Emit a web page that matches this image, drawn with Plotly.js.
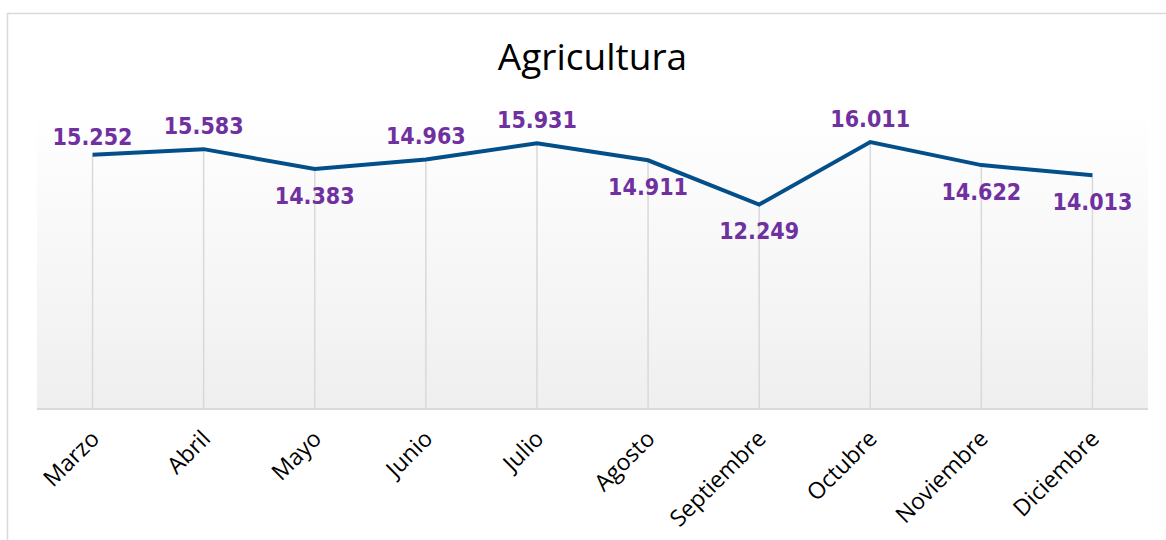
<!DOCTYPE html>
<html>
<head>
<meta charset="utf-8">
<script src="https://cdn.plot.ly/plotly-3.0.1.min.js"></script>
<style>html,body{margin:0;padding:0;background:#fff;}#chart{width:1166px;height:540px;}</style>
</head>
<body>
<div id="chart"></div>
<script>
const months = ["Marzo","Abril","Mayo","Junio","Julio","Agosto","Septiembre","Octubre","Noviembre","Diciembre"];
const values = [15252, 15583, 14383, 14963, 15931, 14911, 12249, 16011, 14622, 14013];
const labelPos = ["top center","top center","bottom center","top center","top center","bottom center","bottom center","top center","bottom center","bottom center"];
const chartTitle = "Agricultura";

// invisible marker sizes used only to space the value labels from the line
const labelGap = labelPos.map((p, i) => i === 0 ? 4 : (p.indexOf('top') === 0 ? 14 : 26));

const gradSvg = '<svg xmlns="http://www.w3.org/2000/svg" width="10" height="100" preserveAspectRatio="none">' +
  '<defs><linearGradient id="g" x1="0" y1="0" x2="0" y2="1"><stop offset="0" stop-color="#ffffff"/><stop offset="1" stop-color="#efefef"/></linearGradient></defs>' +
  '<rect width="10" height="100" fill="url(#g)"/></svg>';
const gradUri = 'data:image/svg+xml;base64,' + btoa(gradSvg);

const dropTrace = {
  x: months, y: values, type: 'scatter', mode: 'markers',
  marker: {size: 1, opacity: 0},
  error_y: {type: 'data', symmetric: false, array: values.map(() => 0), arrayminus: values,
            width: 0, thickness: 1.5, color: '#d9d9d9'},
  hoverinfo: 'skip', showlegend: false
};
const lineTrace = {
  x: months, y: values, type: 'scatter', mode: 'lines+markers+text',
  line: {color: '#034f8a', width: 4},
  marker: {size: labelGap, color: 'rgba(0,0,0,0)', line: {width: 0}},
  texttemplate: '%{y:,.0f}',
  textposition: labelPos,
  textfont: {family: 'DejaVu Sans Condensed, DejaVu Sans, sans-serif', size: 23, color: '#7030a0', weight: 'bold'},
  cliponaxis: false, hoverinfo: 'skip', showlegend: false
};

const layout = {
  width: 1166, height: 540,
  margin: {l: 37, r: 18, t: 109, b: 132},
  separators: ',.',
  paper_bgcolor: '#ffffff', plot_bgcolor: 'rgba(0,0,0,0)',
  title: {text: chartTitle, x: 0.5, xref: 'paper', y: 1 - 57/540, yref: 'container', yanchor: 'middle',
          font: {family: 'Open Sans, sans-serif', size: 37, color: '#000000'}},
  xaxis: {type: 'category', showgrid: false, zeroline: false, showline: true, linecolor: '#d9d9d9', linewidth: 2,
          ticks: '', tickangle: -45, ticklabelstandoff: 6,
          tickfont: {family: 'Open Sans, sans-serif', size: 23, color: '#000000'},
          range: [-0.5, 9.5], fixedrange: true},
  yaxis: {visible: false, range: [0, 18000], fixedrange: true},
  images: [{source: gradUri, xref: 'paper', yref: 'paper', x: 0, y: 1, sizex: 1, sizey: 1,
            xanchor: 'left', yanchor: 'top', sizing: 'stretch', layer: 'below'}],
  shapes: [{type: 'rect', xref: 'paper', yref: 'paper', x0: (7.5-37)/1111, x1: (1180-37)/1111,
            y0: (408-560)/299, y1: (408-13.5)/299, line: {color: '#d9d9d9', width: 1.5}, fillcolor: 'rgba(0,0,0,0)', layer: 'below'}],
  hovermode: false
};
Plotly.newPlot('chart', [dropTrace, lineTrace], layout, {displayModeBar: false, staticPlot: true});
</script>
</body>
</html>
